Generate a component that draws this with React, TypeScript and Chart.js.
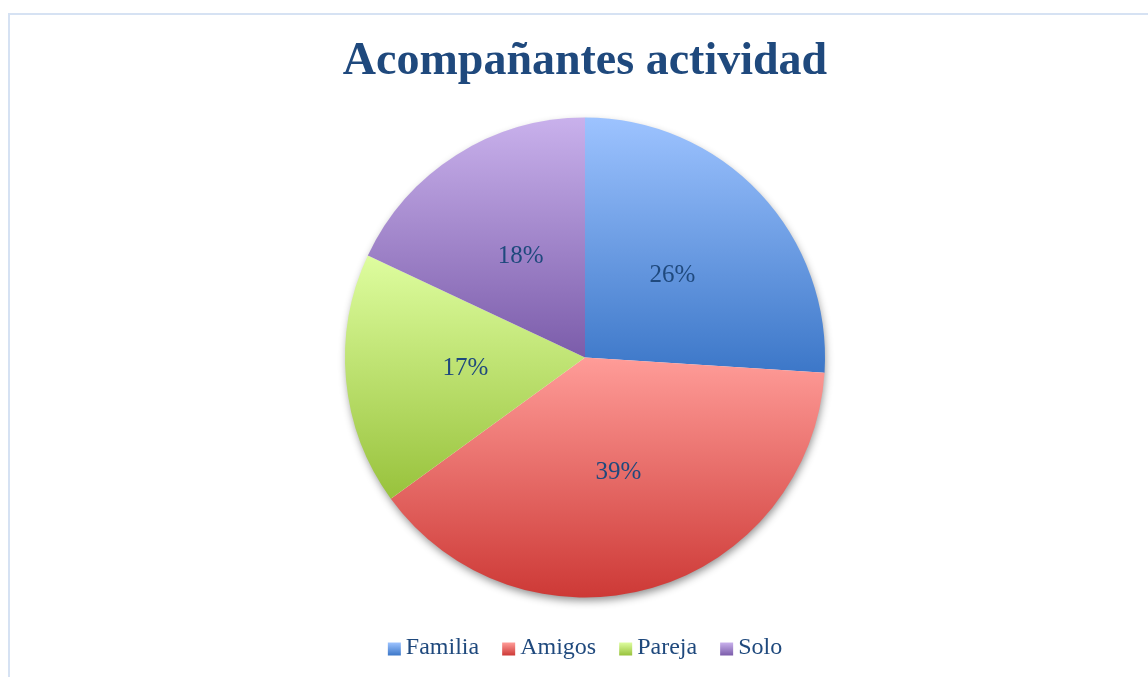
import React, { useEffect, useRef } from "react";
import { Chart, registerables } from "chart.js";

Chart.register(...registerables);

const TITLE = "Acompañantes actividad";
const categories = ["Familia", "Amigos", "Pareja", "Solo"];
const values = [26, 39, 17, 18];
const gradTop = ["#9dc3ff", "#ff9c98", "#defd9f", "#c9b1ec"];
const gradBottom = ["#3c77c8", "#cd3936", "#98c23c", "#7b5caa"];
const TEXT_COLOR = "#1f497d";
const RADIUS = 240;

function sectorYBounds(cy: number, r: number, a0: number, a1: number) {
  const ys = [cy, cy + r * Math.sin(a0), cy + r * Math.sin(a1)];
  for (const a of [-Math.PI / 2, Math.PI / 2, (3 * Math.PI) / 2]) {
    if (a >= a0 && a <= a1) ys.push(cy + r * Math.sin(a));
  }
  return [Math.min(...ys), Math.max(...ys)];
}

export default function App() {
  const ref = useRef<HTMLCanvasElement | null>(null);

  useEffect(() => {
    const canvas = ref.current;
    if (!canvas) return;
    const total = values.reduce((s, v) => s + v, 0);

    const bg = (ctx: any) => {
      const chart = ctx.chart;
      const area = chart.chartArea;
      const i = ctx.dataIndex;
      if (!area || i === undefined) return gradTop[i ?? 0];
      const cy = (area.top + area.bottom) / 2;
      let start = -Math.PI / 2;
      for (let k = 0; k < i; k++) start += (values[k] / total) * Math.PI * 2;
      const end = start + (values[i] / total) * Math.PI * 2;
      const [y0, y1] = sectorYBounds(cy, RADIUS, start, end);
      const g = chart.ctx.createLinearGradient(0, y0, 0, y1);
      g.addColorStop(0, gradTop[i]);
      g.addColorStop(1, gradBottom[i]);
      return g;
    };

    const shadowPlugin = {
      id: "pieShadow",
      beforeDatasetsDraw(chart: any) {
        const meta = chart.getDatasetMeta(0);
        const el = meta.data[0];
        if (!el) return;
        const c = chart.ctx;
        c.save();
        c.shadowColor = "rgba(0,0,0,0.45)";
        c.shadowBlur = 9;
        c.shadowOffsetX = 1;
        c.shadowOffsetY = 4;
        c.fillStyle = "#ffffff";
        c.beginPath();
        c.arc(el.x, el.y, el.outerRadius - 1, 0, Math.PI * 2);
        c.fill();
        c.restore();
      },
    };

    const labelPlugin = {
      id: "sliceLabels",
      afterDatasetsDraw(chart: any) {
        const meta = chart.getDatasetMeta(0);
        const c = chart.ctx;
        c.save();
        c.font = '25px "Liberation Serif"';
        c.fillStyle = TEXT_COLOR;
        c.textAlign = "center";
        c.textBaseline = "middle";
        meta.data.forEach((el: any, i: number) => {
          const p = el.tooltipPosition();
          const pct = Math.round((values[i] / total) * 100) + "%";
          c.fillText(pct, p.x, p.y);
        });
        c.restore();
      },
    };

    const legendBoxPlugin = {
      id: "legendBoxes",
      afterDraw(chart: any) {
        const lg = chart.legend;
        if (!lg || !lg.legendHitBoxes) return;
        const c = chart.ctx;
        lg.legendHitBoxes.forEach((hb: any, i: number) => {
          const itemH = hb.height ?? 38;
          const size = 13;
          const x = hb.left;
          const y = hb.top + itemH / 2 - size / 2 + 1;
          const g = c.createLinearGradient(0, y, 0, y + size);
          g.addColorStop(0, gradTop[i]);
          g.addColorStop(1, gradBottom[i]);
          c.save();
          c.fillStyle = g;
          c.fillRect(x, y, size, size);
          c.restore();
        });
      },
    };

    const chart = new Chart(canvas, {
      type: "pie",
      data: {
        labels: categories,
        datasets: [
          {
            data: values,
            backgroundColor: bg,
            borderWidth: 0,
            radius: RADIUS,
          },
        ],
      },
      options: {
        animation: false,
        responsive: false,
        maintainAspectRatio: false,
        layout: { padding: { left: 12, right: 0, top: 0, bottom: 0 } },
        plugins: {
          title: {
            display: true,
            text: TITLE,
            color: TEXT_COLOR,
            font: { family: '"Liberation Serif"', size: 46, weight: "bold" },
            padding: { top: 20, bottom: 19 },
          },
          legend: {
            display: true,
            position: "bottom",
            labels: {
              font: { family: '"Liberation Serif"', size: 24 },
              color: TEXT_COLOR,
              boxWidth: 6,
              boxHeight: 38,
              padding: 23,
              generateLabels: () =>
                categories.map((name, i) => ({
                  text: name,
                  fillStyle: "rgba(0,0,0,0)",
                  strokeStyle: "rgba(0,0,0,0)",
                  lineWidth: 0,
                  hidden: false,
                  index: i,
                  datasetIndex: 0,
                  fontColor: TEXT_COLOR,
                })),
            },
          },
          tooltip: { enabled: false },
        },
      },
      plugins: [shadowPlugin, labelPlugin, legendBoxPlugin],
    });

    return () => chart.destroy();
  }, []);

  return (
    <div
      style={{
        position: "absolute",
        left: 8,
        top: 13,
        width: 1140,
        height: 664,
        boxSizing: "border-box",
        borderLeft: "2px solid #d6e2f3",
        borderTop: "2px solid #d6e2f3",
        background: "#ffffff",
        overflow: "hidden",
      }}
    >
      <canvas ref={ref} width={1138} height={662} style={{ display: "block" }} />
    </div>
  );
}
